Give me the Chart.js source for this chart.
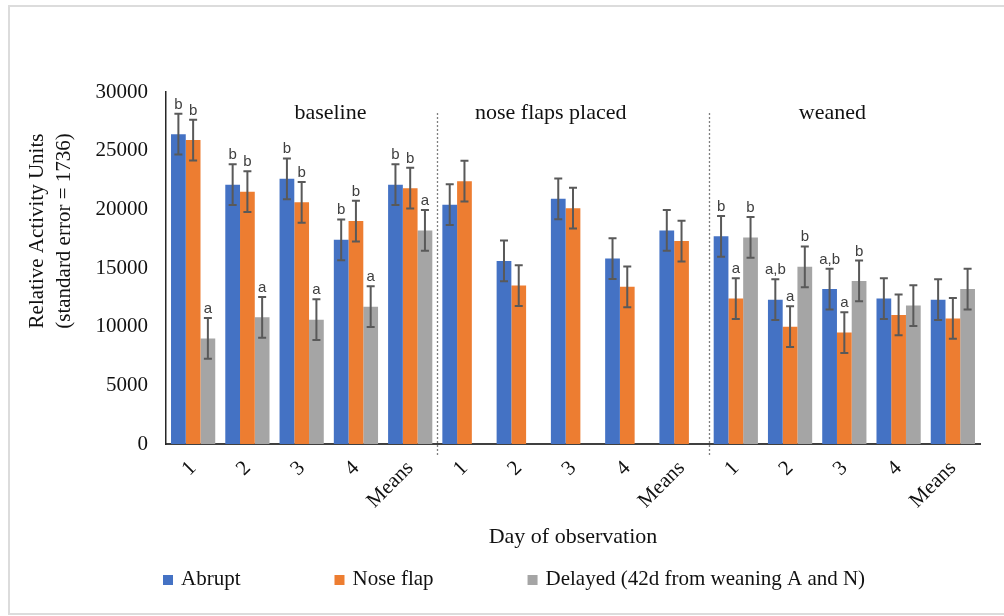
<!DOCTYPE html>
<html>
<head>
<meta charset="utf-8">
<script src="https://cdn.jsdelivr.net/npm/chart.js@4.4.0/dist/chart.umd.min.js"></script>
<style>
  html, body { margin: 0; padding: 0; background: #fff; }
  #wrap { position: relative; width: 1004px; height: 616px; }
</style>
</head>
<body>
<div id="wrap"><canvas id="chart" width="1004" height="616"></canvas></div>
<script>
// data
const dayLabels = ["1", "2", "3", "4", "Means", "1", "2", "3", "4", "Means", "1", "2", "3", "4", "Means"];
const abrupt = [26400, 22100, 22600, 17400, 22100, 20400, 15600, 20900, 15800, 18200, 17700, 12300, 13200, 12400, 12300];
const noseFlap = [25900, 21500, 20600, 19000, 21800, 22400, 13500, 20100, 13400, 17300, 12400, 10000, 9500, 11000, 10700];
const delayed = [9000, 10800, 10600, 11700, 18200, null, null, null, null, null, 17600, 15100, 13900, 11800, 13200];
const abruptLetters = ["b", "b", "b", "b", "b", "", "", "", "", "", "b", "a,b", "a,b", "", ""];
const noseLetters = ["b", "b", "b", "b", "b", "", "", "", "", "", "a", "a", "a", "", ""];
const delayedLetters = ["a", "a", "a", "a", "a", "", "", "", "", "", "b", "b", "b", "", ""];
const standardError = 1736;
const seriesNames = ["Abrupt", "Nose flap", "Delayed (42d from weaning A and N)"];
const groupNames = ["baseline", "nose flaps placed", "weaned"];
const yTitle = ["Relative Activity Units", "(standard error = 1736)"];

const colors = ["#4472C4", "#ED7D31", "#A5A5A5"];
const serif = "'Liberation Serif', 'Times New Roman', serif";

const overlay = {
  id: "overlay",
  beforeDraw(chart) {
    const ctx = chart.ctx;
    ctx.save();
    ctx.strokeStyle = "#dcdcdc";
    ctx.lineWidth = 2;
    ctx.strokeRect(9, 6, 1100, 608);
    ctx.restore();
  },
  afterDatasetsDraw(chart) {
    const ctx = chart.ctx, x = chart.scales.x, y = chart.scales.y;
    const step = x.getPixelForValue(1) - x.getPixelForValue(0);

    // dotted separators between the periods
    ctx.save();
    ctx.strokeStyle = "#7f7f7f";
    ctx.lineWidth = 1.3;
    ctx.setLineDash([2, 2]);
    [5, 10].forEach(i => {
      const px = Math.round(x.getPixelForValue(i) - step / 2) + 0.5;
      ctx.beginPath();
      ctx.moveTo(px, y.top + 21);
      ctx.lineTo(px, y.bottom + 12);
      ctx.stroke();
    });
    ctx.restore();

    // error bars and letters
    const letters = [abruptLetters, noseLetters, delayedLetters];
    ctx.save();
    chart.data.datasets.forEach((ds, di) => {
      const meta = chart.getDatasetMeta(di);
      meta.data.forEach((bar, i) => {
        const v = ds.data[i];
        if (v == null) return;
        const hi = y.getPixelForValue(v + standardError);
        const lo = y.getPixelForValue(v - standardError);
        ctx.strokeStyle = "#595959";
        ctx.lineWidth = 2;
        ctx.beginPath();
        ctx.moveTo(bar.x, hi); ctx.lineTo(bar.x, lo);
        ctx.moveTo(bar.x - 4, hi); ctx.lineTo(bar.x + 4, hi);
        ctx.moveTo(bar.x - 4, lo); ctx.lineTo(bar.x + 4, lo);
        ctx.stroke();
        const t = letters[di][i];
        if (t) {
          ctx.fillStyle = "#404040";
          ctx.font = "15px 'Liberation Sans', Arial, sans-serif";
          ctx.textAlign = "center";
          ctx.textBaseline = "alphabetic";
          ctx.fillText(t, bar.x, hi - 5);
        }
      });
    });
    ctx.restore();
  },
  afterDraw(chart) {
    const ctx = chart.ctx, x = chart.scales.x, y = chart.scales.y;
    const step = x.getPixelForValue(1) - x.getPixelForValue(0);
    const left = x.left;
    ctx.save();
    ctx.fillStyle = "#111";
    ctx.textBaseline = "middle";
    ctx.textAlign = "center";

    // period titles
    ctx.font = "22px " + serif;
    [3.03, 7.09, 12.28].forEach((c, i) => {
      ctx.fillText(groupNames[i], left + c * step, y.top + 21);
    });

    // y axis title, two rotated lines
    ctx.font = "21px " + serif;
    ctx.save();
    ctx.translate(37, 231);
    ctx.rotate(-Math.PI / 2);
    ctx.fillText(yTitle[0], 0, 0);
    ctx.fillText(yTitle[1], 0, 27);
    ctx.restore();

    // legend
    ctx.textAlign = "left";
    let lx = 163;
    seriesNames.forEach((name, i) => {
      ctx.fillStyle = colors[i];
      ctx.fillRect(lx, 575, 10, 10);
      ctx.fillStyle = "#111";
      ctx.fillText(name, lx + 18, 579);
      lx += 18 + ctx.measureText(name).width + 94;
    });
    ctx.restore();
  }
};

const ctx = document.getElementById("chart").getContext("2d");
new Chart(ctx, {
  type: "bar",
  data: {
    labels: dayLabels,
    datasets: [
      { label: seriesNames[0], data: abrupt, backgroundColor: colors[0] },
      { label: seriesNames[1], data: noseFlap, backgroundColor: colors[1] },
      { label: seriesNames[2], data: delayed, backgroundColor: colors[2] },
    ],
  },
  options: {
    responsive: false,
    animation: false,
    devicePixelRatio: 1,
    categoryPercentage: 0.815,
    barPercentage: 1.0,
    layout: { padding: { left: 67, right: 24, top: 92, bottom: 62 } },
    plugins: { legend: { display: false }, tooltip: { enabled: false } },
    scales: {
      x: {
        grid: { display: false, drawTicks: false },
        border: { display: true, color: "#404040", width: 2 },
        ticks: { font: { family: serif, size: 21 }, color: "#111", minRotation: 45, maxRotation: 45, autoSkip: false, padding: 12 },
        title: { display: true, text: "Day of observation", font: { family: serif, size: 22 }, color: "#111", padding: { top: 4, bottom: 4 } },
        afterFit(scale) { scale.height = 110; },
      },
      y: {
        min: 0,
        max: 30000,
        grid: { display: false, drawTicks: false },
        border: { display: true, color: "#262626", width: 1.5 },
        ticks: { stepSize: 5000, font: { family: serif, size: 21 }, color: "#111", padding: 18, callback: v => String(v) },
        afterFit(scale) { scale.width = 99; },
      },
    },
  },
  plugins: [overlay],
});
</script>
</body>
</html>
